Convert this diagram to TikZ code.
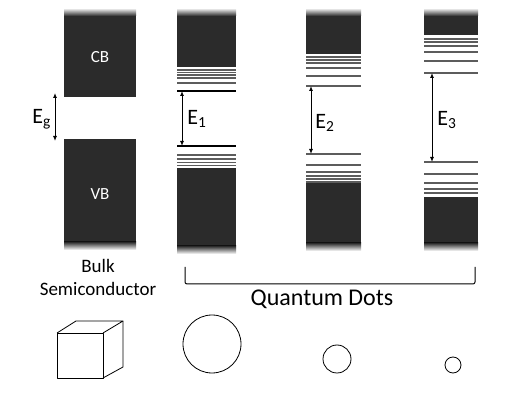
\documentclass[tikz,border=0pt]{standalone}
\usepackage{fontspec}
\setmainfont{Carlito}
\usetikzlibrary{arrows.meta}
\definecolor{band}{HTML}{2B2B2B}
\definecolor{level}{HTML}{5C5C5C}

\begin{document}
\begin{tikzpicture}[x=1pt, y=-1pt, line join=round, line cap=butt,
  lvl/.style={draw=level, line width=1.3pt},
  edge/.style={draw=black, line width=1.6pt},
  gap/.style={{Latex[length=5pt,width=4pt]}-{Latex[length=5pt,width=4pt]}, line width=0.9pt},
  lab/.style={font=\fontsize{22}{22}\selectfont, inner sep=0pt},
  outline/.style={draw, line width=0.8pt}]
\useasboundingbox (0,0) rectangle (515,406);
% bulk semiconductor
\shade[top color=white, bottom color=band] (64,8) rectangle (136,16);
\fill[band] (64,16) rectangle (136,97);
\fill[band] (64,139) rectangle (136,242);
\shade[top color=band, bottom color=white] (64,242) rectangle (136,250);
\node[text=white, font=\fontsize{17}{17}\selectfont] (CB) at (100,57) {CB};
\node[text=white, font=\fontsize{17}{17}\selectfont] (VB) at (100,194) {VB};
\coordinate (Egt) at (55,93);
\coordinate (Egb) at (55,141);
\draw[gap] (Egt) -- (Egb);
\node[lab, anchor=east] (Eg) at (51,119) {E\textsubscript{g}};
% dot 1
\shade[top color=white, bottom color=band] (177,8) rectangle (236,16);
\fill[band] (177,16) rectangle (236,67);
\foreach \y in {70,72.5,75,78,83} \draw[lvl] (177,\y) -- (236,\y);
\draw[edge] (177,91) -- (236,91);
\draw[edge] (177,146) -- (236,146);
\foreach \y in {155,159,162.5,165.5} \draw[lvl] (177,\y) -- (236,\y);
\fill[band] (177,168) rectangle (236,246);
\shade[top color=band, bottom color=white] (177,246) rectangle (236,254);
\coordinate (E1t) at (182,91);
\coordinate (E1b) at (182,146);
\draw[gap] (E1t) -- (E1b);
\node[lab] (E1) at (197,119) {E\textsubscript{1}};
% dot 2
\shade[top color=white, bottom color=band] (306,8) rectangle (361,16);
\fill[band] (306,16) rectangle (361,54);
\foreach \y in {57,60,63,68,76,86} \draw[lvl] (306,\y) -- (361,\y);
\foreach \y in {154,165,172,176,179,182} \draw[lvl] (306,\y) -- (361,\y);
\fill[band] (306,183) rectangle (361,243);
\shade[top color=band, bottom color=white] (306,243) rectangle (361,251);
\coordinate (E2t) at (311,86);
\coordinate (E2b) at (311,154);
\draw[gap] (E2t) -- (E2b);
\node[lab] (E2) at (325,123) {E\textsubscript{2}};
% dot 3
\shade[top color=white, bottom color=band] (424,8) rectangle (478,16);
\fill[band] (424,16) rectangle (478,35);
\foreach \y in {39,42,46,52,61,73} \draw[lvl] (424,\y) -- (478,\y);
\foreach \y in {162,174,183,189,193} \draw[lvl] (424,\y) -- (478,\y);
\fill[band] (424,197) rectangle (478,243);
\shade[top color=band, bottom color=white] (424,243) rectangle (478,251);
\coordinate (E3t) at (432,73);
\coordinate (E3b) at (432,162);
\draw[gap] (E3t) -- (E3b);
\node[lab] (E3) at (447,120) {E\textsubscript{3}};
% captions
\node[font=\fontsize{19}{23}\selectfont, align=center, inner sep=0pt] (bulk) at (98,277) {Bulk\\Semiconductor};
\coordinate (brl) at (185,267);
\coordinate (brr) at (475,267);
\draw[line width=1pt, rounded corners=2pt] (brl) -- (185,284) -- (475,284) -- (brr);
\node[font=\fontsize{24}{24}\selectfont, inner sep=0pt] (qd) at (322,299) {Quantum Dots};
% sizes
\draw[outline] (57,333) rectangle (103,378);
\draw[outline] (57,333) -- (76,321) -- (123,321) -- (103,333);
\draw[outline] (123,321) -- (123,367) -- (103,378);
\draw[outline] (212,344) circle (29);
\draw[outline] (337,359) circle (14);
\draw[outline] (453,365) circle (8);
\end{tikzpicture}
\end{document}
